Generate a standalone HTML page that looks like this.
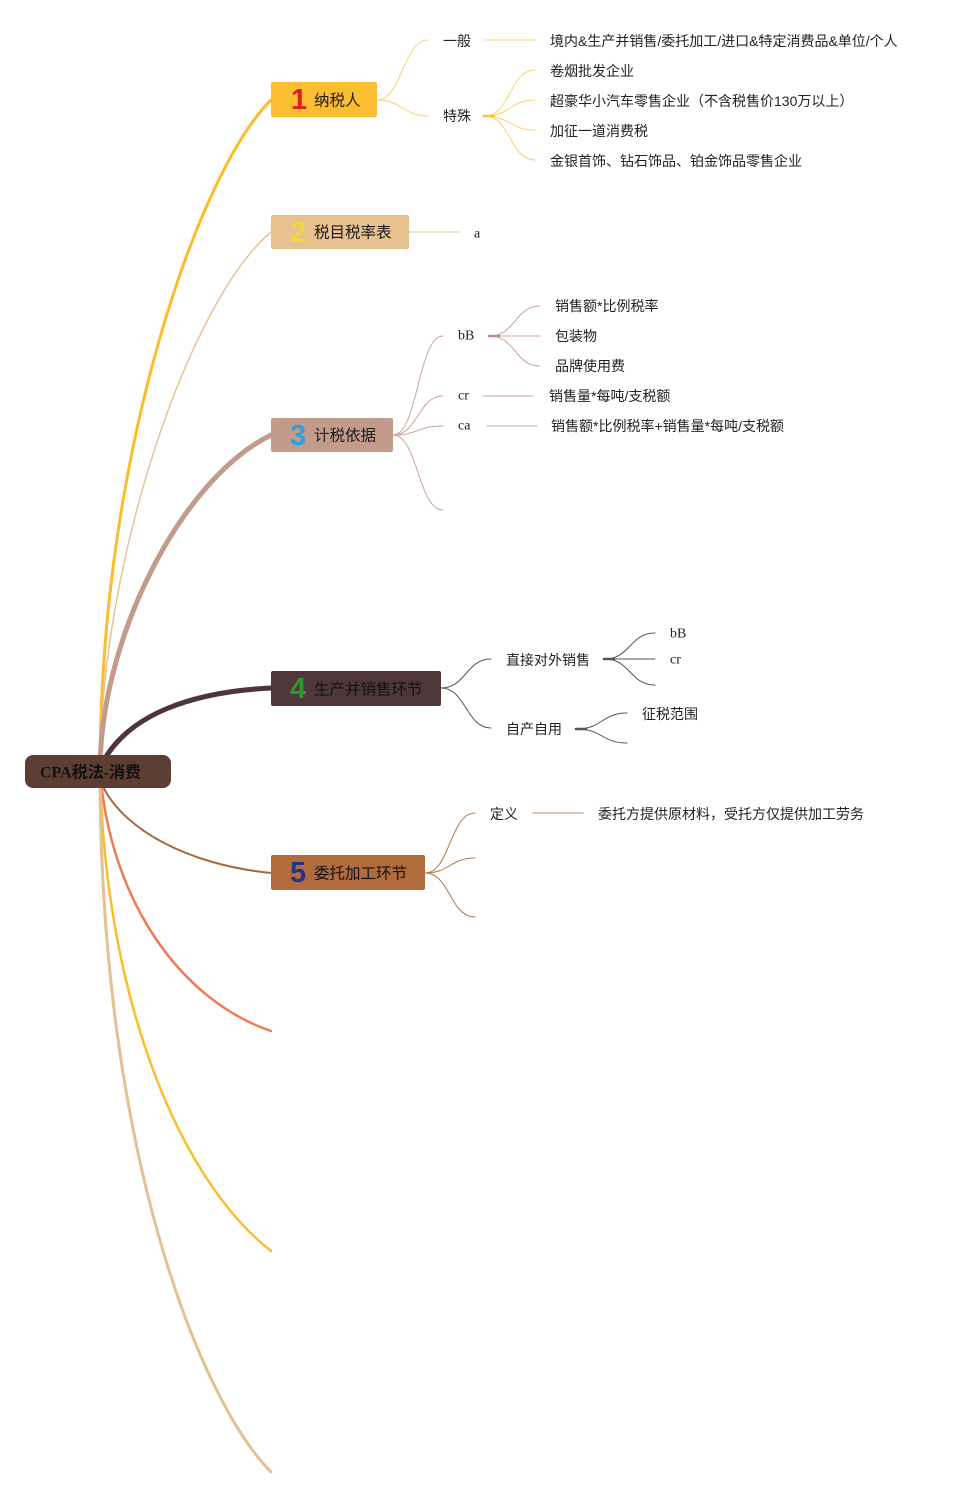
<!DOCTYPE html>
<html><head><meta charset="utf-8"><style>
html,body{margin:0;padding:0;background:#fff;}
svg{display:block;}
text{font-family:"Liberation Sans","Noto Sans CJK SC",sans-serif;fill:#222;}
.s{font-size:14px;}
.serif{font-family:"Liberation Serif","Noto Serif CJK SC",serif;font-size:14px;}
.n{font-size:15.5px;fill:#1a1a1a;}
.num{font-size:29px;font-weight:bold;}
</style></head><body>
<svg width="963" height="1498" viewBox="0 0 963 1498" xmlns="http://www.w3.org/2000/svg">
<g fill="none" stroke-linecap="round">
<!-- main branches -->
<path d="M100,771 C100,450 200,170 271,100" stroke="#fbbd2e" stroke-width="3"/>
<path d="M100,771 C100,560 190,300 271,232" stroke="#e6c494" stroke-width="1.5"/>
<path d="M100,771 C100,640 180,480 271,435" stroke="#c49a8c" stroke-width="5"/>
<path d="M104,760 C130,715 190,692 271,688" stroke="#4e3538" stroke-width="5"/>
<path d="M100,780 C120,830 190,865 271,873" stroke="#a8683c" stroke-width="2"/>
<path d="M100,771 C110,900 180,1000 271,1031" stroke="#f07a52" stroke-width="2.5"/>
<path d="M100,771 C105,1000 180,1180 271,1251" stroke="#fbbd2e" stroke-width="2.5"/>
<path d="M100,771 C100,1150 200,1400 271,1472" stroke="#e2c192" stroke-width="3"/>

<!-- node1 subs -->
<g stroke="#fcd06a" stroke-width="1">
<path d="M377,100 C402,100 403,40 428,40"/>
<path d="M377,100 C402,100 403,116 428,116"/>
<path d="M485,40 L535,40"/>
<path d="M485,116 C510,116 510,70 535,70"/>
<path d="M485,116 C510,116 510,100 535,100"/>
<path d="M485,116 C510,116 510,130 535,130"/>
<path d="M485,116 C510,116 510,160 535,160"/>
</g>
<path d="M484,116 L494,116" stroke="#fcc040" stroke-width="2.5"/>
<!-- node2 sub -->
<path d="M409,232 L459,232" stroke="#e6cca0" stroke-width="1"/>
<!-- node3 subs -->
<g stroke="#caa69c" stroke-width="1">
<path d="M393,435 C418,435 418,336 443,336"/>
<path d="M393,435 C418,435 418,396 443,396"/>
<path d="M393,435 C418,435 418,426 443,426"/>
<path d="M393,435 C418,435 418,510 443,510"/>
<path d="M490,336 C515,336 515,306 540,306"/>
<path d="M490,336 L540,336"/>
<path d="M490,336 C515,336 515,366 540,366"/>
<path d="M483,396 L533,396"/>
<path d="M487,426 L537,426"/>
</g>
<path d="M489,336 L499,336" stroke="#c09088" stroke-width="2.5"/>
<!-- node4 subs -->
<g stroke="#5e5050" stroke-width="1">
<path d="M441,688 C466,688 466,659 491,659"/>
<path d="M441,688 C466,688 466,728 491,728"/>
<path d="M605,659 C630,659 630,633 655,633"/>
<path d="M605,659 L655,659"/>
<path d="M605,659 C630,659 630,685 655,685"/>
<path d="M577,729 C602,729 602,713 627,713"/>
<path d="M577,729 C602,729 602,743 627,743"/>
</g>
<path d="M604,659 L614,659" stroke="#5e5050" stroke-width="2.5"/>
<path d="M576,729 L586,729" stroke="#5e5050" stroke-width="2.5"/>
<!-- node5 subs -->
<g stroke="#b07848" stroke-width="1">
<path d="M425,873 C450,873 450,813 475,813"/>
<path d="M425,873 C450,873 450,858 475,858"/>
<path d="M425,873 C450,873 450,917 475,917"/>
</g>
<path d="M533,813 L583,813" stroke="#d4ad90" stroke-width="1.5"/>
</g>

<!-- root -->
<rect x="25" y="755" width="146" height="33" rx="8" fill="#5d3e33"/>
<text x="40" y="773" dominant-baseline="central" style="font-family:'Liberation Serif','Noto Sans CJK SC',serif;font-size:16px;font-weight:bold;fill:#111;">CPA税法-消费</text>

<!-- node1 -->
<rect x="271" y="82" width="106" height="35" rx="2" fill="#fcbd30"/>
<text class="num" x="291" y="100" dominant-baseline="central" style="fill:#dd1f1f;">1</text>
<text class="n" x="314" y="101" dominant-baseline="central">纳税人</text>
<!-- node2 -->
<rect x="271" y="215" width="138" height="34" rx="2" fill="#e7c28f"/>
<text class="num" x="290" y="233" dominant-baseline="central" style="fill:#f3d83c;">2</text>
<text class="n" x="314" y="233" dominant-baseline="central">税目税率表</text>
<!-- node3 -->
<rect x="271" y="418" width="122" height="34" rx="2" fill="#c39b8b"/>
<text class="num" x="290" y="436" dominant-baseline="central" style="fill:#2b9fe0;">3</text>
<text class="n" x="314" y="436" dominant-baseline="central">计税依据</text>
<!-- node4 -->
<rect x="271" y="671" width="170" height="35" rx="2" fill="#4f3739"/>
<text class="num" x="290" y="689" dominant-baseline="central" style="fill:#2a9a2a;">4</text>
<text class="n" x="314" y="690" dominant-baseline="central" style="fill:#111;">生产并销售环节</text>
<!-- node5 -->
<rect x="271" y="855" width="154" height="35" rx="2" fill="#b26c3c"/>
<text class="num" x="290" y="873" dominant-baseline="central" style="fill:#24338a;">5</text>
<text class="n" x="314" y="874" dominant-baseline="central" style="fill:#111;">委托加工环节</text>

<!-- node1 texts -->
<text class="s" x="443" y="41" dominant-baseline="central">一般</text>
<text class="s" x="443" y="116" dominant-baseline="central">特殊</text>
<text class="s" x="550" y="41" dominant-baseline="central">境内&amp;生产并销售/委托加工/进口&amp;特定消费品&amp;单位/个人</text>
<text class="s" x="550" y="71" dominant-baseline="central">卷烟批发企业</text>
<text class="s" x="550" y="101" dominant-baseline="central">超豪华小汽车零售企业（不含税售价130万以上）</text>
<text class="s" x="550" y="131" dominant-baseline="central">加征一道消费税</text>
<text class="s" x="550" y="161" dominant-baseline="central">金银首饰、钻石饰品、铂金饰品零售企业</text>

<!-- node2 texts -->
<text class="serif" x="474" y="234" dominant-baseline="central">a</text>

<!-- node3 texts -->
<text class="serif" x="458" y="336" dominant-baseline="central">bB</text>
<text class="serif" x="458" y="396" dominant-baseline="central">cr</text>
<text class="serif" x="458" y="426" dominant-baseline="central">ca</text>
<text class="s" x="555" y="306" dominant-baseline="central">销售额*比例税率</text>
<text class="s" x="555" y="336" dominant-baseline="central">包装物</text>
<text class="s" x="555" y="366" dominant-baseline="central">品牌使用费</text>
<text class="s" x="549" y="396" dominant-baseline="central">销售量*每吨/支税额</text>
<text class="s" x="551" y="426" dominant-baseline="central">销售额*比例税率+销售量*每吨/支税额</text>

<!-- node4 texts -->
<text class="s" x="506" y="660" dominant-baseline="central">直接对外销售</text>
<text class="s" x="506" y="729" dominant-baseline="central">自产自用</text>
<text class="serif" x="670" y="634" dominant-baseline="central">bB</text>
<text class="serif" x="670" y="660" dominant-baseline="central">cr</text>
<text class="s" x="642" y="714" dominant-baseline="central">征税范围</text>

<!-- node5 texts -->
<text class="s" x="490" y="814" dominant-baseline="central">定义</text>
<text class="s" x="598" y="814" dominant-baseline="central">委托方提供原材料，受托方仅提供加工劳务</text>
</svg>
</body></html>
